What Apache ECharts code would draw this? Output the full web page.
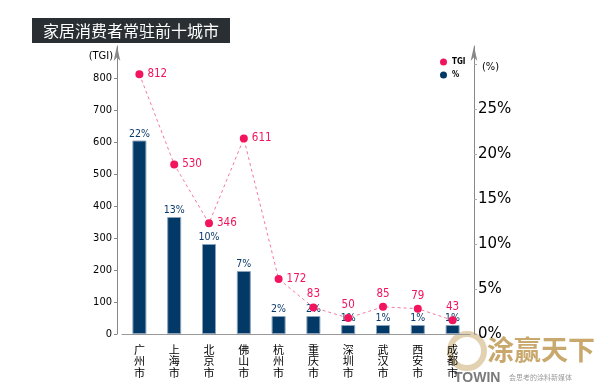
<!DOCTYPE html>
<html><head><meta charset="utf-8">
<script src="https://cdn.jsdelivr.net/npm/echarts@6/dist/echarts.min.js"></script>
<style>html,body{margin:0;padding:0;background:#fff}#c{width:601px;height:386px}</style>
</head><body><div id="c"></div>
<script>
const cities = ['广州市','上海市','北京市','佛山市','杭州市','重庆市','深圳市','武汉市','西安市','成都市'];
const tgiValues = [812,530,346,611,172,83,50,85,79,43];
const pctValues = [21.5,13,10,7,2,2,1,1,1,1];
const leftTicks = {min:0,max:900,interval:100};
const rightTicks = {min:0,max:32,interval:5,lastLabel:25};
const title = '家居消费者常驻前十城市';
const narrow = '"DejaVu Sans Condensed", "Liberation Sans Narrow", Roboto, sans-serif';

const chart = echarts.init(document.getElementById('c'));
chart.setOption({
  animation:false,
  backgroundColor:'#fff',
  grid:{left:122,right:131,top:46,bottom:52},
  legend:{orient:'vertical',left:440,top:58,itemWidth:7,itemHeight:7,itemGap:5,padding:0,
    itemStyle:{borderWidth:0},
    textStyle:{fontSize:8,fontWeight:'bold',color:'#000',fontFamily:narrow},
    data:[{name:'TGI',icon:'circle'},{name:'%',icon:'circle'}]},
  xAxis:{type:'category',data:cities,
    axisLine:{lineStyle:{color:'#999',width:1}},
    axisTick:{alignWithLabel:true,length:8,lineStyle:{color:'#d0d0d0',width:2}},
    axisLabel:{margin:10,color:'#000',fontSize:11,lineHeight:11.5,fontFamily:'Noto Sans CJK SC',
      formatter:v=>v.split('').join('\n')}},
  yAxis:[
    {type:'value',min:leftTicks.min,max:leftTicks.max,interval:leftTicks.interval,offset:5,
     axisLine:{show:true,lineStyle:{color:'#888'},symbol:['none','arrow'],symbolSize:[5,15]},
     axisTick:{show:true,length:3,lineStyle:{color:'#888'}},
     splitLine:{show:false},
     axisLabel:{showMaxLabel:false,margin:5,color:'#000',fontSize:11,fontFamily:narrow}},
    {type:'value',min:rightTicks.min,max:rightTicks.max,interval:rightTicks.interval,offset:4,position:'right',
     axisLine:{show:true,lineStyle:{color:'#888'},symbol:['none','arrow'],symbolSize:[5,15]},
     axisTick:{show:true,length:3,inside:false,lineStyle:{color:'#aaa'}},
     splitLine:{show:false},
     axisLabel:{showMaxLabel:false,margin:4,color:'#000',fontSize:15,fontFamily:'DejaVu Sans',
       formatter:v=>v<=rightTicks.lastLabel?v+'%':''}}
  ],
  series:[
    {name:'%',type:'bar',yAxisIndex:1,barWidth:14,data:pctValues,z:2,
     itemStyle:{color:'#033966',borderColor:'#8aa3bd',borderWidth:1},
     label:{show:true,position:'top',distance:1,color:'#0b3a6a',fontSize:10.5,fontFamily:narrow,
       formatter:p=>Math.round(p.value)+'%'}},
    {name:'TGI',type:'line',yAxisIndex:0,data:tgiValues.map((v,i)=>({value:v,
        label:{position:i<5?'right':'top',distance:i<5?4:3}})),z:5,
     symbol:'circle',symbolSize:8,
     itemStyle:{color:'#f2145c'},
     lineStyle:{color:'#f37aa0',width:1,type:[3,3]},
     label:{show:true,color:'#f2145c',fontSize:11.5,fontFamily:narrow}}
  ],
  graphic:[
    {type:'rect',shape:{x:32,y:18,width:198,height:25},style:{fill:'#2a2f33'}},
    {type:'text',x:131,y:31,style:{text:title,fill:'#fff',font:'16px "Noto Sans CJK SC"',textAlign:'center',textVerticalAlign:'middle'}},
    {type:'text',x:113,y:56,style:{text:'(TGI)',fill:'#000',font:'11px "DejaVu Sans Condensed", Roboto, sans-serif',textAlign:'right',textVerticalAlign:'middle'}},
    {type:'text',x:482,y:67,style:{text:'(%)',fill:'#000',font:'11px "DejaVu Sans Condensed", Roboto, sans-serif',textAlign:'left',textVerticalAlign:'middle'}},
    {type:'circle',shape:{cx:467,cy:351,r:17},style:{fill:'none',stroke:'#d8c398',lineWidth:6,opacity:0.75},z:-1},
    {type:'text',x:487,y:350,style:{text:'涂赢天下',fill:'#c9a86e',font:'bold 27px "Noto Sans CJK SC"',textAlign:'left',textVerticalAlign:'middle'},z:-1},
    {type:'text',x:454,y:378,style:{text:'TOWIN',fill:'#7a7a7a',font:'bold 14px "Liberation Sans"',textAlign:'left',textVerticalAlign:'middle'},z:-1},
    {type:'text',x:509,y:377,style:{text:'会思考的涂料新媒体',fill:'#9a9a9a',font:'7px "Noto Sans CJK SC"',textAlign:'left',textVerticalAlign:'middle'},z:-1}
  ]
});
</script></body></html>
